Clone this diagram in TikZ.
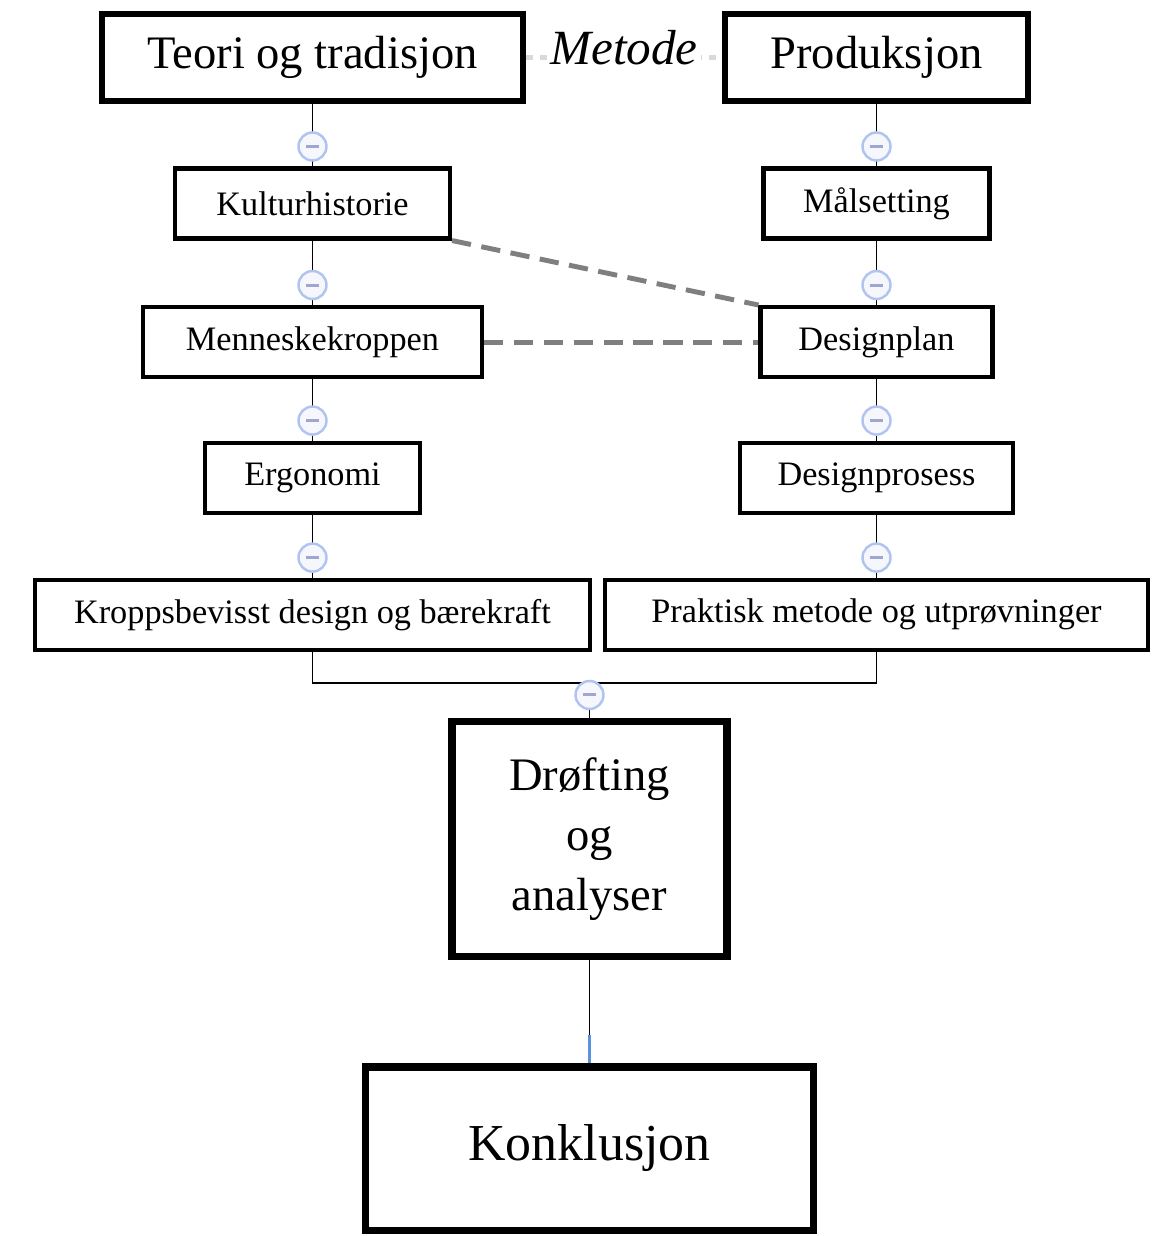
\documentclass[tikz,border=0pt]{standalone}
\usepackage{fontspec}
\setmainfont{Liberation Serif}
\usetikzlibrary{positioning, calc}

\definecolor{foldring}{HTML}{B0C4EF}
\definecolor{foldfill}{HTML}{F5F7FC}
\definecolor{foldbar}{HTML}{9FA6D2}
\definecolor{linkgrey}{HTML}{7F7F7F}
\definecolor{methgrey}{HTML}{D9D9D9}
\definecolor{lastblue}{HTML}{5B93E0}

\begin{document}
\begin{tikzpicture}[
    headbox/.style={
        draw, line width=3.4pt,
        minimum height=1.74cm,
        font=\fontsize{26.5}{32}\selectfont
    },
    topic/.style={
        draw, line width=2.3pt,
        minimum height=1.40cm,
        font=\fontsize{19.5}{23}\selectfont
    },
    bigbox/.style={
        draw, line width=4pt,
        align=center
    },
    fold/.style={
        circle, draw=foldring, fill=foldfill,
        line width=1.4pt,
        minimum size=0.56cm,
        inner sep=0pt
    },
    link/.style={line width=1.1pt},
    cross/.style={linkgrey, line width=2.8pt, dash pattern=on 11pt off 6pt}
]
\useasboundingbox (0,0) rectangle (23.08,-24.72);

% ===================== HEADINGS =====================
\node[headbox, minimum width=8.42cm] (teori) at (6.25,-1.15) {Teori og tradisjon};
\node[headbox, minimum width=6.06cm] (prod) at (17.53,-1.15) {Produksjon};

% ===================== LEFT COLUMN =====================
\node[topic, minimum width=5.50cm, below=1.25cm of teori] (kult) {Kulturhistorie};
\node[topic, minimum width=6.78cm, below=1.29cm of kult] (menne) {Menneskekroppen};
\node[topic, minimum width=4.30cm, below=1.23cm of menne] (ergo) {Ergonomi};
\node[topic, minimum width=11.10cm, below=1.26cm of ergo] (kropp) {Kroppsbevisst design og bærekraft};

% ===================== RIGHT COLUMN =====================
\node[topic, minimum width=4.52cm, below=1.25cm of prod] (maal) {Målsetting};
\node[topic, minimum width=4.64cm, below=1.29cm of maal] (plan) {Designplan};
\node[topic, minimum width=5.46cm, below=1.23cm of plan] (prosess) {Designprosess};
\node[topic, minimum width=10.86cm, below=1.26cm of prosess] (prak) {Praktisk metode og utprøvninger};

% ===================== SUMMING UP =====================
\node[bigbox, minimum width=5.50cm, minimum height=4.70cm,
      font=\fontsize{26.5}{34}\selectfont] (drof) at (11.79,-16.78)
{Drøfting\\og\\analyser};
\node[bigbox, minimum width=8.96cm, minimum height=3.26cm,
      font=\fontsize{29.5}{34}\selectfont] (konk) at (11.79,-22.97)
{Konklusjon};

% ===================== METODE =====================
\draw[methgrey, line width=3pt, dash pattern=on 4pt off 4pt] (teori.east) -- (prod.west);
\node[fill=white, inner sep=2pt, font=\fontsize{28}{32}\selectfont\itshape]
  (metode) at ($(teori.east)!0.5!(prod.west)+(0,0.2)$) {Metode};

% ===================== TREE LINKS =====================
\foreach \a/\b in {teori/kult, kult/menne, menne/ergo, ergo/kropp,
                   prod/maal, maal/plan, plan/prosess, prosess/prak}{
  \draw[link] (\a.south) -- (\b.north);
  \node[fold] at ($(\b.north)+(0,0.4)$)
    {\textcolor{foldbar}{\rule[-0.03cm]{0.26cm}{0.06cm}}};
}

\coordinate (join) at ($(kropp.south)+(0,-0.62)$);
\draw[link] (kropp.south) -- (join) -- (join -| prak.south) -- (prak.south);
\draw[link] (join -| drof.north) -- (drof.north);
\node[fold] at ($(drof.north)+(0,0.46)$)
  {\textcolor{foldbar}{\rule[-0.03cm]{0.26cm}{0.06cm}}};

\coordinate (blue) at ($(konk.north)+(0,0.56)$);
\draw[link] (drof.south) -- (blue);
\draw[link, lastblue, line width=1.5pt] (blue) -- (konk.north);

% ===================== CROSS LINKS =====================
\draw[cross] (kult.south east) -- (plan.north west);
\draw[cross] (menne.east) -- (plan.west);

\end{tikzpicture}
\end{document}
